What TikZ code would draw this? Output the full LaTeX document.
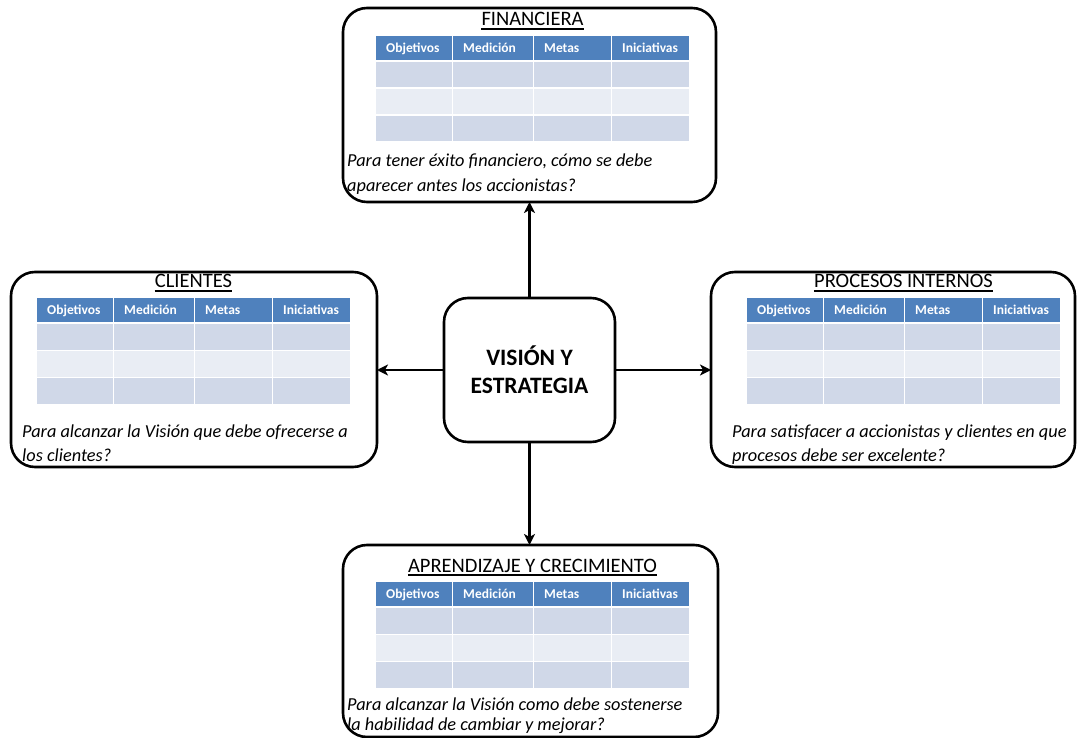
\documentclass[tikz,border=0pt]{standalone}
\usepackage{fontspec}
\setmainfont{Carlito}
\usetikzlibrary{arrows.meta}

\definecolor{hdrblue}{HTML}{4F81BD}
\definecolor{rowdark}{HTML}{D0D8E8}
\definecolor{rowlight}{HTML}{E9EDF4}

\tikzset{
  panelbox/.style={draw=black, line width=2.6pt, rounded corners=24pt,
    inner sep=0pt, outer sep=0pt},
  hdrtext/.style={font=\fontsize{13.5}{15}\selectfont\bfseries, text=white,
    anchor=base west, inner sep=0pt},
  paneltitle/.style={font=\fontsize{20.5}{24}\selectfont, anchor=base, inner sep=0pt},
  question/.style={font=\fontsize{18.3}{24}\selectfont\itshape,
    anchor=base west, inner sep=0pt},
  link/.style={line width=2.5pt, -{Stealth[length=11pt,width=11pt,inset=3pt]}},
}

% #1 name, #2-#5 box corners (left, top, right, bottom),
% #6-#7 table top-left corner, #8 title
\newcommand\bscpanel[8]{%
  \pgfmathsetmacro\panelw{#4-#2}%
  \pgfmathsetmacro\panelh{#5-#3}%
  \node[panelbox, minimum width=\panelw pt, minimum height=\panelh pt,
        anchor=north west] (#1) at (#2,#3) {};
  \begin{scope}[shift={(#6,#7)}]
    \foreach \ca/\cb in {0/76,77/157,158/235,236/313}{
      \fill[hdrblue]  (\ca,0)  rectangle (\cb,24);
      \fill[rowdark]  (\ca,26) rectangle (\cb,51.5);
      \fill[rowlight] (\ca,53) rectangle (\cb,78.5);
      \fill[rowdark]  (\ca,80) rectangle (\cb,105.5);
    }
    \node[hdrtext] (#1-obj) at (10,16.5)  {Objetivos};
    \node[hdrtext] (#1-med) at (87,16.5)  {Medición};
    \node[hdrtext] (#1-met) at (168,16.5) {Metas};
    \node[hdrtext] (#1-ini) at (246,16.5) {Iniciativas};
    \node[paneltitle] (#1-title) at (156.5,-10) {#8};
    \draw[line width=1.4pt] ([yshift=-3pt]#1-title.base west)
      -- ([yshift=-3pt]#1-title.base east);
  \end{scope}
}

\begin{document}
\begin{tikzpicture}[x=1pt, y=-1pt]
  \fill[white] (0,0) rectangle (1077,738);
  \useasboundingbox (0,0) rectangle (1077,738);

  % perspective panels
  \bscpanel{fin}{343}{8}{716}{202}{376}{36}{FINANCIERA}
  \bscpanel{cli}{11}{272}{377}{467}{37}{298}{CLIENTES}
  \bscpanel{pro}{711}{272}{1075}{467}{747}{298}{PROCESOS INTERNOS}
  \bscpanel{apr}{343}{545}{718}{737}{376}{582}{APRENDIZAJE Y CRECIMIENTO}

  % guiding questions
  \node[question] (fin-q1) at (347,167) {Para tener éxito financiero, cómo se debe};
  \node[question] (fin-q2) at (347,192) {aparecer antes los accionistas?};
  \node[question] (cli-q1) at (22,437)  {Para alcanzar la Visión que debe ofrecerse a};
  \node[question] (cli-q2) at (22,461)  {los clientes?};
  \node[question] (pro-q1) at (732,437) {Para satisfacer a accionistas y clientes en que};
  \node[question] (pro-q2) at (732,461) {procesos debe ser excelente?};
  \node[question] (apr-q1) at (347,710) {Para alcanzar la Visión como debe sostenerse};
  \node[question] (apr-q2) at (347,730) {la habilidad de cambiar y mejorar?};

  % central box
  \node[panelbox, minimum width=171pt, minimum height=144pt, align=center,
        font=\fontsize{23.5}{28}\selectfont\bfseries] (vis) at (529.5,370)
        {VISIÓN Y\\ESTRATEGIA};

  % connectors
  \draw[link] (vis.north) -- (vis.north |- fin.south);
  \draw[link] (vis.south) -- (vis.south |- apr.north);
  \draw[link] (vis.west)  -- (vis.west -| cli.east);
  \draw[link] (vis.east)  -- (vis.east -| pro.west);
\end{tikzpicture}
\end{document}
